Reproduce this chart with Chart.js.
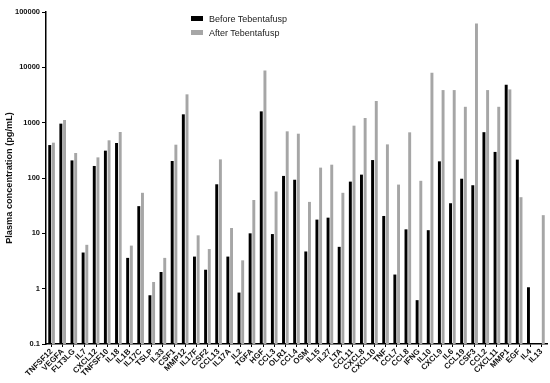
<!DOCTYPE html>
<html lang="en">

<head>
    <meta charset="UTF-8">
    <title>Plasma cytokines</title>
    <script src="https://cdn.jsdelivr.net/npm/chart.js@4.4.1/dist/chart.umd.min.js"></script>
    <style>
        body { margin: 0; background: #fff; }
        #wrap { position: relative; width: 550px; height: 383px; }
        .legend { position: absolute; left: 191px; font: 9px "Liberation Sans", Arial, sans-serif; color: #222; }
        .legend span { display: inline-block; width: 12px; height: 5px; margin-right: 6px; vertical-align: 1px; }
    </style>
</head>

<body>
<div id="wrap">
    <canvas id="chart" width="550" height="383"></canvas>
    <div class="legend" style="top: 14px;"><span style="background:#000"></span>Before Tebentafusp</div>
    <div class="legend" style="top: 28px;"><span style="background:#a6a6a6"></span>After Tebentafusp</div>
</div>
<script>
    const categories = ['TNFSF12', 'VEGFA', 'FLT3LG', 'IL7', 'CXCL12', 'TNFSF10', 'IL18', 'IL1B', 'IL17C', 'TSLP',
        'IL33', 'CSF1', 'MMP12', 'IL17F', 'CSF2', 'CCL13', 'IL17A', 'IL2', 'TGFA', 'HGF',
        'CCL3', 'OLR1', 'CCL4', 'OSM', 'IL15', 'IL27', 'LTA', 'CCL11', 'CXCL8', 'CXCL10',
        'TNF', 'CCL7', 'CCL8', 'IFNG', 'IL10', 'CXCL9', 'IL6', 'CCL19', 'CSF3', 'CCL2',
        'CXCL11', 'MMP1', 'EGF', 'IL4', 'IL13'];

    const beforeVals = [394, 960, 208, 4.5, 165, 312, 429, 3.6, 31, 0.76,
        2.0, 203, 1415, 3.8, 2.2, 77, 3.8, 0.85, 10, 1600,
        9.7, 109, 93, 4.7, 17.7, 19.2, 5.7, 86, 115, 211,
        20.6, 1.8, 11.8, 0.62, 11.4, 200, 35, 97, 74, 673,
        296, 4850, 215, 1.06, null];

    const afterVals = [435, 1117, 283, 6.2, 236, 480, 678, 6.0, 54, 1.32,
        3.6, 400, 3250, 9.2, 5.2, 217, 12.5, 3.25, 40, 8800,
        57, 697, 632, 37, 154, 174, 54, 883, 1214, 2465,
        405, 76, 669, 89, 8000, 3880, 3880, 1936, 61900, 3880,
        1936, 3990, 45, null, 21.3];

    const yTickValues = [0.1, 1, 10, 100, 1000, 10000, 100000];
    const yTickLabels = ['0.1', '1', '10', '100', '1000', '10000', '100000'];

    const boldFont = { family: '"Liberation Sans", Arial, sans-serif', weight: 'bold' };

    const ctx = document.getElementById('chart').getContext('2d');
    new Chart(ctx, {
        type: 'bar',
        data: {
            labels: categories,
            datasets: [
                { label: 'Before Tebentafusp', data: beforeVals, backgroundColor: '#000000' },
                { label: 'After Tebentafusp', data: afterVals, backgroundColor: '#a6a6a6' }
            ]
        },
        options: {
            responsive: false,
            animation: false,
            categoryPercentage: 0.66,
            barPercentage: 0.8,
            layout: { padding: { top: 12, right: 3, left: 0, bottom: 0 } },
            plugins: {
                legend: { display: false },
                tooltip: { enabled: false }
            },
            scales: {
                x: {
                    grid: { display: true, drawOnChartArea: false, drawTicks: true, tickLength: 3, color: '#000', offset: false },
                    border: { color: '#000', width: 1.5 },
                    ticks: {
                        autoSkip: false, maxRotation: 45, minRotation: 45, padding: 0,
                        color: '#111', font: { ...boldFont, size: 8 }
                    },
                    afterFit: function (s) { s.height = 39; }
                },
                y: {
                    type: 'logarithmic',
                    min: 0.1,
                    max: 100000,
                    afterBuildTicks: function (s) {
                        s.ticks = yTickValues.map(v => ({ value: v, major: true }));
                    },
                    grid: { display: true, drawOnChartArea: false, drawTicks: true, tickLength: 4, color: '#000' },
                    border: { color: '#000', width: 1.5 },
                    ticks: {
                        autoSkip: false, padding: 2, color: '#111',
                        font: { ...boldFont, size: 7.5 },
                        callback: function (v, i) { return yTickLabels[i]; }
                    },
                    title: {
                        display: true, text: 'Plasma concentration (pg/mL)', color: '#111',
                        font: { ...boldFont, size: 9.2 }, padding: { top: 4, bottom: 0 }
                    },
                    afterFit: function (s) { s.width = 46; }
                }
            }
        }
    });
</script>
</body>

</html>
